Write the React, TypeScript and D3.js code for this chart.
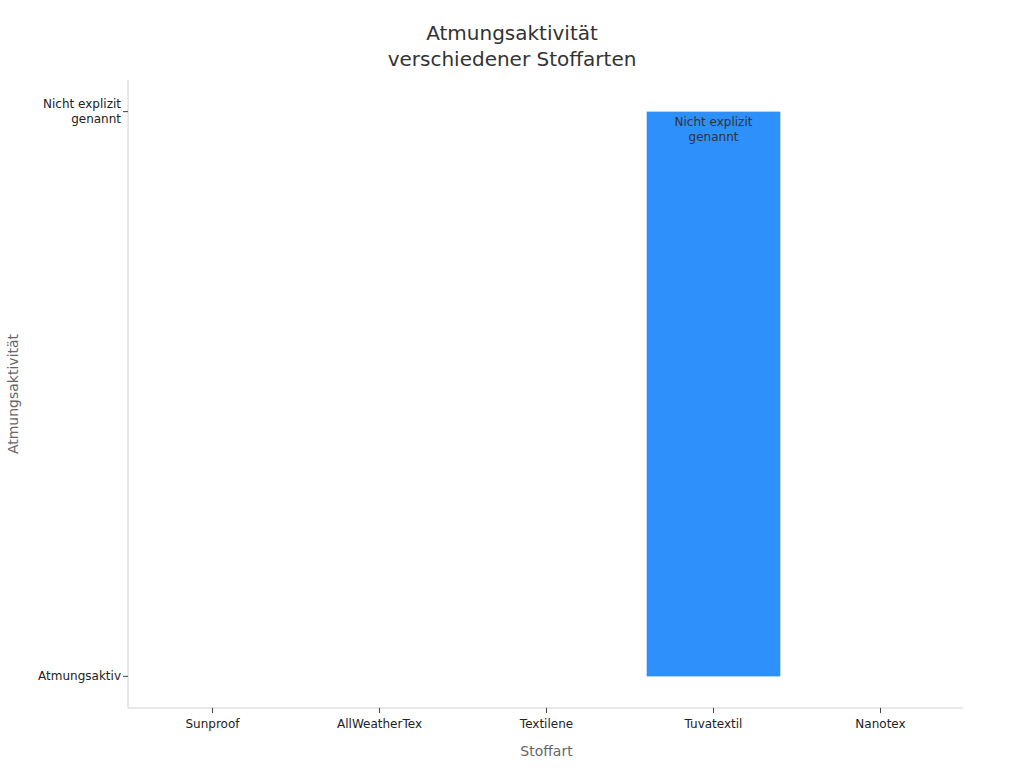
import React, { useEffect, useRef } from "react";
import * as d3 from "d3";

// fabric types and their breathability class
const fabrics = ["Sunproof", "AllWeatherTex", "Textilene", "Tuvatextil", "Nanotex"];
const levels = ["Atmungsaktiv", "Nicht explizit genannt"];
const fabricLevels = ["Atmungsaktiv", "Atmungsaktiv", "Atmungsaktiv", "Nicht explizit genannt", "Atmungsaktiv"];
const barLabels = ["", "", "", "Nicht explizit genannt", ""];

const W = 1024;
const H = 768;

const App: React.FC = () => {
  const ref = useRef<SVGSVGElement | null>(null);

  useEffect(() => {
    if (!ref.current) return;
    const svg = d3.select(ref.current);
    svg.selectAll("*").remove();

    const margin = { top: 80, right: 61, bottom: 60, left: 128 };
    const innerW = W - margin.left - margin.right;
    const innerH = H - margin.top - margin.bottom;
    const font = "DejaVu Sans, sans-serif";

    const g = svg.append("g").attr("transform", `translate(${margin.left},${margin.top})`);

    const x = d3.scaleBand().domain(fabrics).range([0, innerW]).paddingInner(0.2).paddingOuter(0.1);
    const xc = d3.scaleBand().domain(fabrics).range([0, innerW]);

    const y = d3.scalePoint().domain(levels).range([innerH, 0]).padding(0.056);

    // bars: drawn from the lowest category up to the value
    fabrics.forEach((f, i) => {
      const top = y(fabricLevels[i])!;
      const base = y(levels[0])!;
      g.append("rect")
        .attr("x", x(f)! + 1)
        .attr("y", top)
        .attr("width", x.bandwidth())
        .attr("height", Math.max(0, base - top))
        .attr("fill", "#2e90fa");
      if (barLabels[i]) {
        const words = barLabels[i].split(" ");
        const lines = [words.slice(0, 2).join(" "), words.slice(2).join(" ")];
        const cx = x(f)! + 1 + x.bandwidth() / 2;
        const t = g.append("text")
          .attr("x", cx)
          .attr("y", top + 14)
          .attr("text-anchor", "middle")
          .attr("font-family", font)
          .attr("font-size", 12)
          .attr("fill", "#333");
        lines.forEach((l, k) => t.append("tspan").attr("x", cx).attr("dy", k === 0 ? 0 : 15).text(l));
      }
    });

    // axis lines
    g.append("line").attr("x1", 0).attr("x2", 0).attr("y1", 0).attr("y2", innerH).attr("stroke", "#d0d0d0");
    g.append("line").attr("x1", 0).attr("x2", innerW).attr("y1", innerH).attr("y2", innerH).attr("stroke", "#d0d0d0");

    // y ticks
    levels.forEach((lv) => {
      const yy = y(lv)!;
      g.append("line").attr("x1", -5).attr("x2", 0).attr("y1", yy).attr("y2", yy).attr("stroke", "#444");
      const parts = lv === "Nicht explizit genannt" ? ["Nicht explizit", "genannt"] : [lv];
      const t = g.append("text")
        .attr("text-anchor", "end")
        .attr("font-family", font)
        .attr("font-size", 12)
        .attr("fill", "#222");
      parts.forEach((p, k) =>
        t.append("tspan")
          .attr("x", -7)
          .attr("y", yy + 4 + (k - (parts.length - 1) / 2) * 15)
          .text(p)
      );
    });

    // x ticks
    fabrics.forEach((f) => {
      const xx = xc(f)! + xc.bandwidth() / 2 + 1;
      g.append("line").attr("x1", xx).attr("x2", xx).attr("y1", innerH).attr("y2", innerH + 5).attr("stroke", "#444");
      g.append("text")
        .attr("x", xx)
        .attr("y", innerH + 20)
        .attr("text-anchor", "middle")
        .attr("font-family", font)
        .attr("font-size", 12)
        .attr("fill", "#222")
        .text(f);
    });

    // axis titles
    svg.append("text")
      .attr("x", margin.left + innerW / 2 + 1)
      .attr("y", 756)
      .attr("text-anchor", "middle")
      .attr("font-family", font)
      .attr("font-size", 14)
      .attr("fill", "#666")
      .text("Stoffart");

    svg.append("text")
      .attr("transform", `translate(18,${margin.top + innerH / 2}) rotate(-90)`)
      .attr("text-anchor", "middle")
      .attr("font-family", font)
      .attr("font-size", 14)
      .attr("fill", "#666")
      .text("Atmungsaktivität");

    // title
    const title = svg.append("text")
      .attr("text-anchor", "middle")
      .attr("font-family", font)
      .attr("font-size", 20)
      .attr("fill", "#333");
    ["Atmungsaktivität", "verschiedener Stoffarten"].forEach((l, k) =>
      title.append("tspan").attr("x", 512).attr("y", 40 + k * 26).text(l)
    );
  }, []);

  return (
    <svg
      ref={ref}
      width={W}
      height={H}
      style={{ position: "absolute", left: 0, top: 0, background: "#fff" }}
    />
  );
};

export default App;
